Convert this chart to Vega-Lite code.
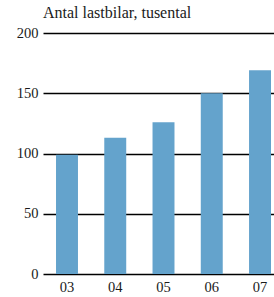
{
  "$schema": "https://vega.github.io/schema/vega-lite/v6.json",
  "autosize": "none",
  "width": 231,
  "height": 241,
  "padding": {"left": 43, "top": 33, "right": 0, "bottom": 23},
  "background": "white",
  "title": {
    "text": "Antal lastbilar, tusental",
    "anchor": "start",
    "frame": "group",
    "offset": 4
  },
  "config": {
    "view": {"stroke": null},
    "font": "Liberation Serif",
    "title": {"font": "Liberation Serif", "fontSize": 16, "fontWeight": "normal", "color": "#1a1a1a"},
    "axis": {"labelFont": "Liberation Serif", "labelFontSize": 14.5, "labelColor": "#1a1a1a"}
  },
  "data": {
    "values": [
      {"year": "03", "value": 99},
      {"year": "04", "value": 113},
      {"year": "05", "value": 126},
      {"year": "06", "value": 150},
      {"year": "07", "value": 169}
    ]
  },
  "mark": {"type": "bar", "color": "#64a3cc"},
  "encoding": {
    "x": {
      "field": "year",
      "type": "ordinal",
      "scale": {"paddingInner": 0.545, "paddingOuter": 0.166, "align": 0.8125},
      "axis": {"title": null, "ticks": false, "domain": false, "labelAngle": 0, "labelPadding": 6}
    },
    "y": {
      "field": "value",
      "type": "quantitative",
      "scale": {"domain": [0, 200], "nice": false},
      "axis": {
        "title": null,
        "values": [0, 50, 100, 150, 200],
        "domain": false,
        "ticks": false,
        "labelPadding": 5,
        "grid": true,
        "gridColor": "#000000",
        "gridWidth": 1.6,
        "gridOpacity": 1
      }
    }
  }
}
